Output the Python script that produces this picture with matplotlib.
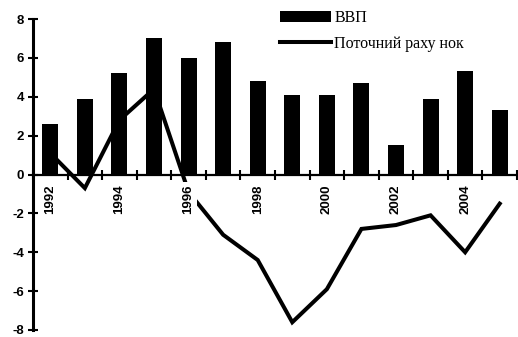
import matplotlib
matplotlib.use("Agg")
import matplotlib.pyplot as plt
import numpy as np

# Annual data, 1992-2005 (%)
years = list(range(1992, 2006))
gdp = [2.6, 3.9, 5.2, 7.0, 6.0, 6.8, 4.8, 4.1, 4.1, 4.7, 1.5, 3.9, 5.3, 3.3]
current_account = [1.1, -0.7, 2.8, 4.4, -0.9, -3.1, -4.4, -7.6, -5.9, -2.8, -2.6, -2.1, -4.0, -1.5]
labeled_years = [1992, 1994, 1996, 1998, 2000, 2002, 2004]
y_ticks = [-8, -6, -4, -2, 0, 2, 4, 6, 8]

series_names = ["ВВП", "Поточний раху нок"]

W, H = 518, 337
fig = plt.figure(figsize=(W / 100, H / 100), dpi=100)
ax = fig.add_axes([33 / W, 7 / H, 484 / W, 311 / H])
ax.set_axisbelow(False)

x = np.arange(len(years))
bars = ax.bar(x, gdp, width=0.46, color="black", zorder=1, label=series_names[0])
line, = ax.plot(x, current_account, color="black", lw=2.9, zorder=2,
                solid_joinstyle="miter", label=series_names[1])

ax.set_xlim(-0.5, len(years) - 0.5)
ax.set_ylim(y_ticks[0], y_ticks[-1])

for side in ("top", "right"):
    ax.spines[side].set_visible(False)
ax.spines["bottom"].set_position(("data", 0))
ax.spines["bottom"].set_linewidth(1.6)
ax.spines["left"].set_linewidth(2.2)

x_font = {"family": "Liberation Sans", "size": 9.5, "weight": "bold"}
y_font = {"family": "Liberation Sans", "size": 9.5, "weight": "bold"}

# boundary tick marks between categories on the x axis
ax.set_xticks(np.arange(-0.5, len(years), 1.0))
ax.set_xticklabels([])
ax.tick_params(axis="x", which="major", direction="inout", length=7, width=1.5)

# year labels every other category, with a white backing
ax.set_xticks([years.index(y) for y in labeled_years], minor=True)
ax.set_xticklabels([str(y) for y in labeled_years], minor=True, rotation=90,
                   fontdict=x_font)
ax.tick_params(axis="x", which="minor", length=0, pad=7)
for t in ax.xaxis.get_minorticklabels():
    t.set_bbox(dict(facecolor="white", edgecolor="none", pad=1.5))

ax.set_yticks(y_ticks)
ax.set_yticklabels([str(v) for v in y_ticks], fontdict=y_font)
ax.tick_params(axis="y", direction="inout", length=7, width=1.5, pad=3)

ax.legend([bars, line], series_names, loc="upper left",
          bbox_to_anchor=(280 / W, 1 - 10 / H),
          bbox_transform=fig.transFigure, frameon=False,
          prop={"family": "Liberation Serif", "size": 11.5},
          handlelength=3.2, handletextpad=0.2, labelspacing=0.6,
          borderpad=0, borderaxespad=0)

fig.savefig("out.png", dpi=100)
